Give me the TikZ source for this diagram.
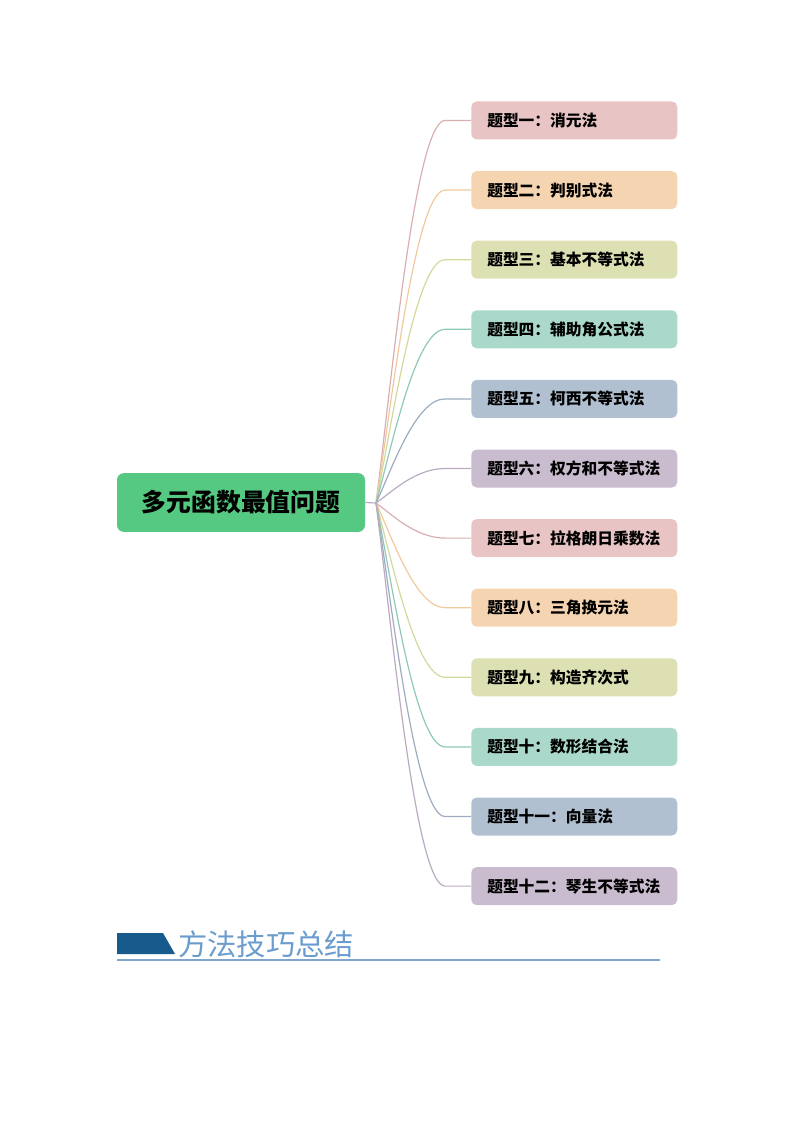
\documentclass[tikz,border=0pt]{standalone}
\usepackage{fontspec}
\newfontfamily\cjk{Noto Sans CJK SC}
\usetikzlibrary{calc}

\definecolor{topicgreen}{HTML}{55C982}
\definecolor{fillA}{HTML}{E9C4C4}
\definecolor{fillB}{HTML}{F5D5B1}
\definecolor{fillC}{HTML}{DDE0B2}
\definecolor{fillD}{HTML}{AAD8CA}
\definecolor{fillE}{HTML}{B1C0D1}
\definecolor{fillF}{HTML}{CABCCF}
\definecolor{lineA}{HTML}{D9AFB1}
\definecolor{lineB}{HTML}{F0CA9C}
\definecolor{lineC}{HTML}{D3D89C}
\definecolor{lineD}{HTML}{8DC9B6}
\definecolor{lineE}{HTML}{9DACC0}
\definecolor{lineF}{HTML}{BAABC1}
\definecolor{headblue}{HTML}{175A8C}
\definecolor{headtext}{HTML}{6A9DCD}
\definecolor{headline}{HTML}{7FA6CC}

\tikzstyle{topic} = [rectangle, fill=topicgreen, rounded corners=5pt,
    minimum width=186pt, minimum height=44pt,
    font={\cjk\bfseries\fontsize{18.6pt}{20pt}\selectfont}]
\tikzstyle{block} = [rectangle, rounded corners=4pt, anchor=west,
    text width=130.5pt, inner xsep=12pt, minimum height=28.5pt, align=left,
    font={\cjk\bfseries\fontsize{11.8pt}{14pt}\selectfont}]
\tikzstyle{branch} = [draw, line width=0.9pt]

\begin{document}
\begin{tikzpicture}[x=0.75pt, y=-0.75pt]

    \useasboundingbox (0,0) rectangle (794,1123);

    % Place nodes
    \node [topic] (topic) at (241,502.5) {多元函数最值问题};
    \coordinate (hub) at (376,503);

    \foreach \i/\name/\col in {1/一：消元法/A, 2/二：判别式法/B,
        3/三：基本不等式法/C, 4/四：辅助角公式法/D, 5/五：柯西不等式法/E,
        6/六：权方和不等式法/F, 7/七：拉格朗日乘数法/A, 8/八：三角换元法/B,
        9/九：构造齐次式/C, 10/十：数形结合法/D, 11/十一：向量法/E,
        12/十二：琴生不等式法/F}
        \node [block, fill=fill\col] (t\i) at (471,{120.5+(\i-1)*69.6}) {题型\name};

    % Draw edges
    \draw [branch, draw=lineF] (topic.east) -- (hub);

    \foreach \i/\col in {1/A, 2/B, 3/C, 4/D, 5/E, 6/F, 7/A, 8/B, 9/C, 10/D, 11/E, 12/F}
        \draw [branch, draw=line\col]
        (hub)
        .. controls ($(hub)!0.3!(hub |- t\i.west)+(15,0)$)
        and ($(t\i.west)+(-56,0)$) ..
        ($(t\i.west)+(-26,0)$) -- (t\i.west);

    % Heading
    \fill [headblue] (117,933) -- (163,933) -- (175,954) -- (117,954) -- cycle;
    \node [anchor=west, text=headtext, inner sep=0pt,
        font={\cjk\fontsize{22pt}{24pt}\selectfont}] (heading) at (178,944.5) {方法技巧总结};
    \draw [headline, line width=0.8pt] (117,960) -- (660,960);

\end{tikzpicture}
\end{document}
